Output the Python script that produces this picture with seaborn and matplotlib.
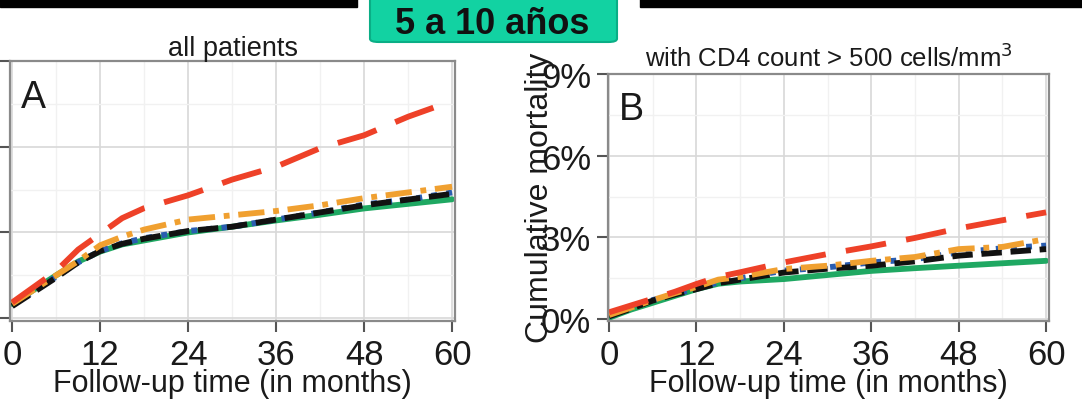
import matplotlib
matplotlib.use("Agg")
import matplotlib.pyplot as plt
from matplotlib.patches import Rectangle, FancyBboxPatch
import seaborn as sns
import pandas as pd

# follow-up months and cumulative mortality (%)
months = [0, 3, 6, 9, 12, 15, 18, 24, 30, 36, 42, 48, 54, 60]
groups = ["g1", "g2", "g3", "g4", "g5"]

# A: all patients
a_g1 = [0.50, 1.00, 1.50, 1.98, 2.33, 2.58, 2.72, 3.00, 3.20, 3.42, 3.62, 3.84, 4.00, 4.16]
a_g2 = [0.45, 0.95, 1.45, 1.95, 2.35, 2.62, 2.80, 3.05, 3.20, 3.45, 3.70, 3.98, 4.15, 4.40]
a_g3 = [0.42, 0.92, 1.42, 1.95, 2.35, 2.60, 2.78, 3.05, 3.20, 3.45, 3.70, 3.95, 4.15, 4.35]
a_g4 = [0.50, 1.00, 1.50, 2.00, 2.55, 2.85, 3.10, 3.45, 3.60, 3.75, 3.95, 4.20, 4.40, 4.60]
a_g5 = [0.55, 1.10, 1.65, 2.40, 2.95, 3.50, 3.85, 4.30, 4.85, 5.30, 5.95, 6.40, 7.05, 7.60]

# B: CD4 count > 500 cells/mm3
b_g1 = [0.05, 0.35, 0.60, 0.85, 1.10, 1.30, 1.38, 1.47, 1.62, 1.77, 1.87, 1.96, 2.05, 2.14]
b_g2 = [0.10, 0.40, 0.70, 0.92, 1.12, 1.35, 1.50, 1.78, 1.90, 2.08, 2.20, 2.45, 2.60, 2.70]
b_g3 = [0.10, 0.38, 0.68, 0.90, 1.10, 1.32, 1.45, 1.71, 1.85, 1.96, 2.12, 2.33, 2.45, 2.57]
b_g4 = [0.15, 0.42, 0.70, 0.95, 1.18, 1.45, 1.55, 1.84, 1.96, 2.14, 2.28, 2.57, 2.65, 2.94]
b_g5 = [0.25, 0.50, 0.75, 1.00, 1.29, 1.55, 1.72, 2.08, 2.39, 2.67, 2.98, 3.33, 3.63, 3.92]

colors = {"g1": "#1fa862", "g2": "#2a5db0", "g3": "#111111", "g4": "#f0a030", "g5": "#ee4128"}
dashes = {"g1": "", "g2": (1, 1.6), "g3": (3.5, 1.5), "g4": (4.5, 1.5, 1, 1.5), "g5": (7, 3.5)}


def long_table(series):
    rows = []
    for g, vals in zip(groups, series):
        for m, v in zip(months, vals):
            rows.append({"month": m, "mort": v, "group": g})
    return pd.DataFrame(rows)


sns.set_style("whitegrid")
plt.rcParams["font.family"] = ["Liberation Sans Narrow", "Liberation Sans", "DejaVu Sans"]

W, H = 1082, 406
fig = plt.figure(figsize=(W / 100, H / 100), dpi=100)


def px_axes(l, t, r, b):
    return fig.add_axes([l / W, 1 - b / H, (r - l) / W, (b - t) / H])


def style_axes(ax, xlim, ylim):
    ax.set_xlim(*xlim)
    ax.set_ylim(*ylim)
    ax.set_xticks([0, 12, 24, 36, 48, 60])
    ax.set_yticks([0, 3, 6, 9])
    ax.set_xticks([6, 18, 30, 42, 54], minor=True)
    ax.set_yticks([1.5, 4.5, 7.5], minor=True)
    ax.grid(True, which="major", color="#d8d8d8", lw=1.2)
    ax.grid(True, which="minor", color="#f1f1f1", lw=1.0)
    ax.tick_params(which="major", direction="out", length=8, width=1.5, color="#555555",
                   labelsize=25, labelcolor="#1a1a1a", pad=4, bottom=True, left=True)
    ax.tick_params(which="minor", length=0)
    for s in ax.spines.values():
        s.set_color("#8a8a8a")
        s.set_linewidth(1.6)
    ax.set_xlabel("Follow-up time (in months)", fontsize=22, color="#1a1a1a", labelpad=-2)
    ax.set_ylabel("")


def draw(ax, series):
    df = long_table(series)
    sns.lineplot(data=df, x="month", y="mort", hue="group", style="group",
                 palette=colors, dashes=dashes, hue_order=groups, style_order=groups,
                 lw=4.2, ax=ax, legend=False)


# panel A (its y tick labels lie outside the cropped picture)
axA = px_axes(10, 62, 455, 322)
draw(axA, [a_g1, a_g2, a_g3, a_g4, a_g5])
style_axes(axA, (-0.3, 60.4), (-0.1, 9.0))
axA.tick_params(axis="y", labelleft=False)
axA.set_title("all patients", fontsize=19.5, family="Liberation Sans", pad=4, color="#1a1a1a")
axA.text(0.025, 0.93, "A", transform=axA.transAxes, fontsize=27, family="Liberation Sans",
         va="top", ha="left", color="#1a1a1a")

# panel B
axB = px_axes(608, 75, 1049, 322)
draw(axB, [b_g1, b_g2, b_g3, b_g4, b_g5])
style_axes(axB, (-0.15, 60.4), (-0.07, 9.0))
axB.set_yticklabels(["0%", "3%", "6%", "9%"])
axB.set_title("with CD4 count > 500 cells/mm$^3$", fontsize=18.5, family="Liberation Sans",
              pad=6, color="#1a1a1a")
axB.text(0.025, 0.93, "B", transform=axB.transAxes, fontsize=27, family="Liberation Sans",
         va="top", ha="left", color="#1a1a1a")
fig.text(540 / W, 1 - 198 / H, "Cumulative mortality", rotation=90, fontsize=23,
         ha="center", va="center", color="#1a1a1a")

# header bar and green badge
fig.patches.append(Rectangle((0, 1 - 8 / H), 357 / W, 8 / H, transform=fig.transFigure,
                             color="black", zorder=5))
fig.patches.append(Rectangle((640 / W, 1 - 8 / H), 442 / W, 8 / H, transform=fig.transFigure,
                             color="black", zorder=5))
fig.patches.append(FancyBboxPatch((370 / W, 1 - 43 / H), 247 / W, 50 / H,
                                  boxstyle="round,pad=0,rounding_size=0.008",
                                  transform=fig.transFigure, facecolor="#12d2a2",
                                  edgecolor="#0aae86", lw=1.5, zorder=7))
fig.text(492 / W, 1 - 24 / H, "5 a 10 años", fontsize=26, fontweight="bold",
         family="Liberation Sans", ha="center", va="center", color="#111111", zorder=8)

fig.savefig("out.png", dpi=100)
